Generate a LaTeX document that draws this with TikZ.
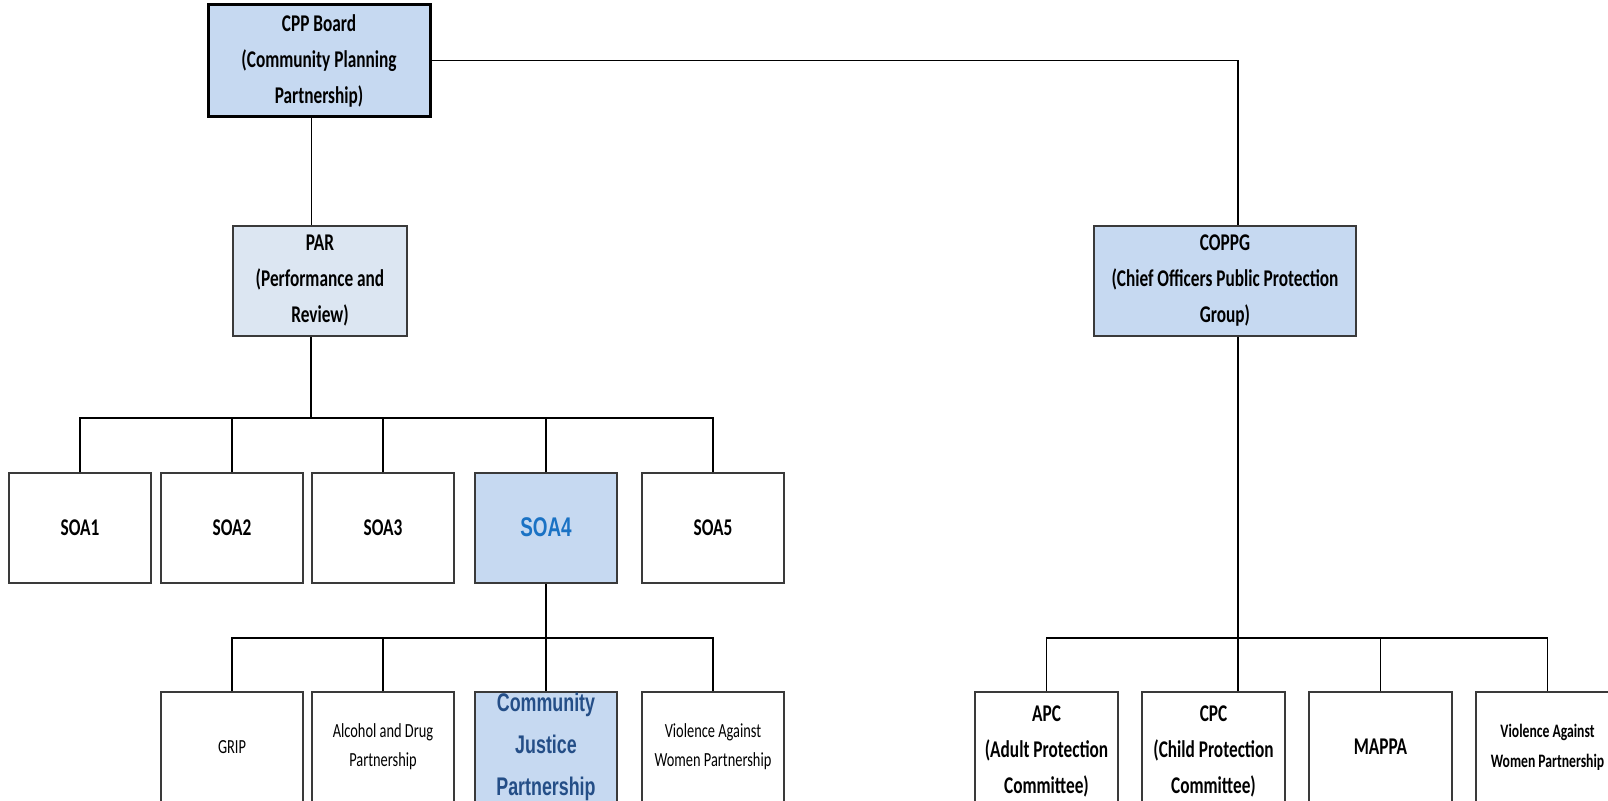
\documentclass[tikz,border=0pt]{standalone}
\usepackage{fontspec}
\newfontfamily\calfont{Carlito}[FakeStretch=0.72]
\newfontfamily\arlfont{Liberation Sans}[FakeStretch=0.7]
\definecolor{boxfill}{HTML}{C6D9F1}
\definecolor{parfill}{HTML}{DCE6F2}
\definecolor{boxline}{HTML}{3A3A3A}
\definecolor{soablue}{HTML}{1A72C4}
\definecolor{cjpblue}{HTML}{244E87}
\tikzset{
  box/.style={draw=boxline, line width=1.5pt, fill=white, inner sep=0pt, align=center,
    minimum height=110pt, text=black},
  bigtxt/.style={font=\calfont\bfseries\fontsize{24}{36}\selectfont},
  smalltxt/.style={font=\calfont\fontsize{20}{29}\selectfont},
  smallbold/.style={font=\calfont\bfseries\fontsize{19}{30}\selectfont},
  link/.style={draw=black, line width=1.2pt},
}
\begin{document}
\begin{tikzpicture}[x=1pt,y=-1pt]
\useasboundingbox (0,0) rectangle (1608,800);
\clip (0,0) rectangle (1608,800);
\fill[white] (0,0) rectangle (1608,800);

% top level
\node[box, bigtxt, fill=boxfill, line width=3pt, draw=black, minimum width=222pt, minimum height=111pt] (cpp) at (319,60.5)
  {CPP Board\\(Community Planning\\Partnership)};
\node[box, bigtxt, fill=parfill, minimum width=174pt] (par) at (320,281)
  {PAR\\(Performance and\\Review)};
\node[box, bigtxt, fill=boxfill, minimum width=262pt] (coppg) at (1225,281)
  {COPPG\\(Chief Officers Public Protection\\Group)};

% SOA row
\node[box, bigtxt, minimum width=142pt] (soa1) at (80,528) {SOA1};
\node[box, bigtxt, minimum width=142pt] (soa2) at (232,528) {SOA2};
\node[box, bigtxt, minimum width=142pt] (soa3) at (383,528) {SOA3};
\node[box, fill=boxfill, minimum width=142pt, text=soablue,
  font=\arlfont\bfseries\fontsize{27}{30}\selectfont] (soa4) at (546,528) {\raisebox{2pt}{SOA4}};
\node[box, bigtxt, minimum width=142pt] (soa5) at (713,528) {SOA5};

% bottom left row
\node[box, smalltxt, minimum width=142pt] (grip) at (232,747) {GRIP};
\node[box, smalltxt, minimum width=142pt] (adp) at (383,747) {Alcohol and Drug\\Partnership};
\node[box, fill=boxfill, minimum width=142pt, text=cjpblue,
  font=\arlfont\bfseries\fontsize{25.5}{42}\selectfont] (cjp) at (546,747) {Community\\Justice\\Partnership};
\node[box, smalltxt, minimum width=142pt] (vawl) at (713,747) {Violence Against\\Women Partnership};

% bottom right row
\node[box, minimum width=143pt,
  label={[bigtxt, align=center, yshift=-4pt]center:APC\\(Adult Protection\\Committee)}] (apc) at (1046.5,747) {};
\node[box, minimum width=143pt,
  label={[bigtxt, align=center, yshift=-4pt]center:CPC\\(Child Protection\\Committee)}] (cpc) at (1213.5,747) {};
\node[box, bigtxt, minimum width=143pt] (mappa) at (1380.5,747) {MAPPA};
\node[box, smallbold, minimum width=143pt] (vawr) at (1547.5,747) {Violence Against\\Women Partnership};

% connectors
\draw[link] ([xshift=-7.5pt]cpp.south) -- ([xshift=-8.5pt]par.north);
\draw[link] (cpp.east) -| ([xshift=13pt]coppg.north);

\coordinate (bar1) at (311,418);
\draw[link] ([xshift=-9pt]par.south) -- (bar1);
\draw[link] (soa1.north) |- (bar1) -| (soa5.north);
\draw[link] (soa2.north) -- (soa2.north |- bar1);
\draw[link] (soa3.north) -- (soa3.north |- bar1);
\draw[link] (soa4.north) -- (soa4.north |- bar1);

\coordinate (bar2) at (546,638);
\draw[link] (soa4.south) -- (cjp.north);
\draw[link] (grip.north) |- (bar2) -| (vawl.north);
\draw[link] (adp.north) -- (adp.north |- bar2);

\coordinate (bar3) at (1238,638);
\draw[link] ([xshift=13pt]coppg.south) -- ([xshift=24.5pt]cpc.north);
\draw[link] (apc.north) |- (bar3) -| (vawr.north);
\draw[link] (mappa.north) -- (mappa.north |- bar3);
\end{tikzpicture}
\end{document}
